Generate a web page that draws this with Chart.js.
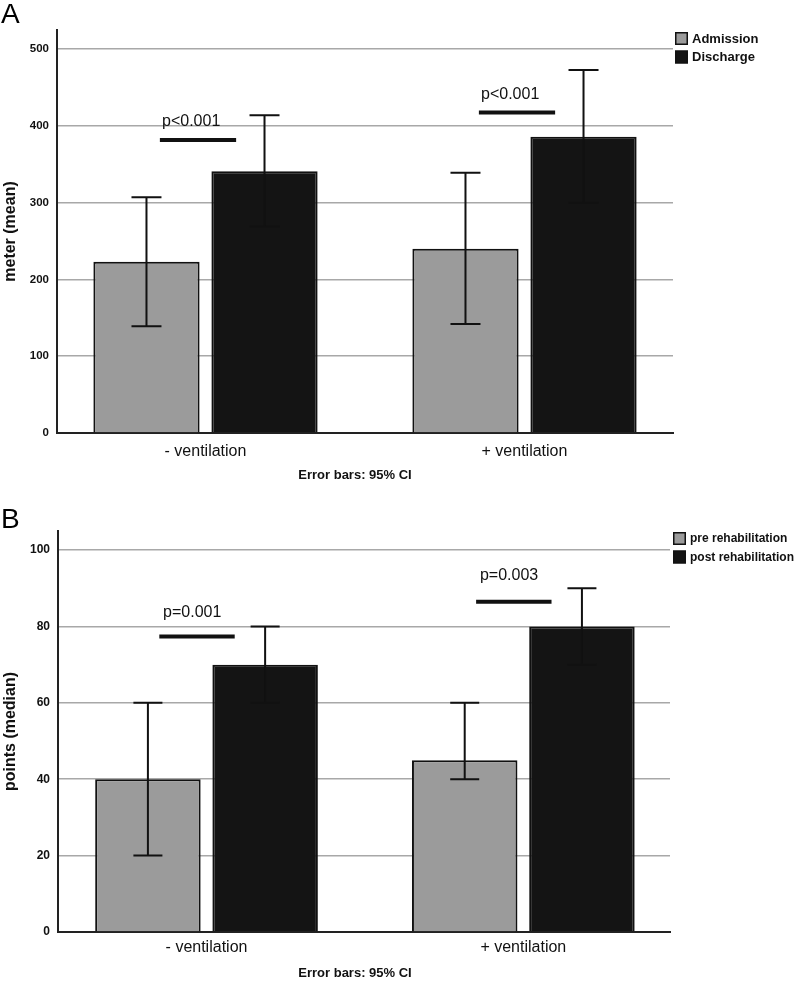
<!DOCTYPE html>
<html><head><meta charset="utf-8">
<script src="https://cdn.jsdelivr.net/npm/chart.js@4.4.0/dist/chart.umd.min.js"></script>
<style>
html,body{margin:0;padding:0;background:#fff;}
#wrap{position:relative;width:800px;height:988px;background:#fff;}
canvas{position:absolute;left:0;}
</style></head><body>
<div id="wrap">
<canvas id="cA" width="800" height="490" style="top:0"></canvas>
<canvas id="cB" width="800" height="498" style="top:490px"></canvas>
</div>
<script>
// ---------- data ----------
const categories = ['- ventilation', '+ ventilation'];

// Panel A: walking distance (meter, mean, 95% CI)
const seriesA = ['Admission', 'Discharge'];
const admissionMean = [223, 240];
const admissionCILow = [139, 142];
const admissionCIHigh = [307, 339];
const dischargeMean = [341, 386];
const dischargeCILow = [269, 300];
const dischargeCIHigh = [414, 473];
const pValuesA = ['p<0.001', 'p<0.001'];
const yTicksA = [0, 100, 200, 300, 400, 500];

// Panel B: points (median, 95% CI)
const seriesB = ['pre rehabilitation', 'post rehabilitation'];
const preMedian = [40, 45];
const preCILow = [20, 40];
const preCIHigh = [60, 60];
const postMedian = [70, 80];
const postCILow = [60, 70];
const postCIHigh = [80, 90];
const pValuesB = ['p=0.001', 'p=0.003'];
const yTicksB = [0, 20, 40, 60, 80, 100];

// ---------- styling ----------
const FONT = '"Liberation Sans", Arial, Helvetica, sans-serif';
const INK = '#111111';
const GREY = '#9b9b9b';
const DARK = '#141414';
const GRID = '#a8a8a8';

const extrasPlugin = {
  id: 'extras',
  afterDatasetsDraw(chart, args, o) {
    const ctx = chart.ctx, xs = chart.scales.x, ys = chart.scales.y;
    ctx.save();
    ctx.strokeStyle = INK;
    ctx.lineWidth = 2;
    chart.data.datasets.forEach((ds, i) => {
      const meta = chart.getDatasetMeta(i);
      meta.data.forEach((el, j) => {
        const x = el.x;
        const yl = ys.getPixelForValue(ds.ciLow[j]);
        const yh = ys.getPixelForValue(ds.ciHigh[j]);
        const c = o.cap / 2;
        ctx.beginPath();
        ctx.moveTo(x, yl); ctx.lineTo(x, yh);
        ctx.moveTo(x - c, yl); ctx.lineTo(x + c, yl);
        ctx.moveTo(x - c, yh); ctx.lineTo(x + c, yh);
        ctx.stroke();
      });
    });
    // significance annotations
    const s = o.sig;
    s.texts.forEach((t, j) => {
      const x0 = xs.getPixelForValue(j + s.dx[0]);
      const x1 = xs.getPixelForValue(j + s.dx[1]);
      const yLine = ys.getPixelForValue(s.lineY[j]);
      ctx.lineWidth = 4;
      ctx.beginPath(); ctx.moveTo(x0, yLine); ctx.lineTo(x1, yLine); ctx.stroke();
      ctx.fillStyle = INK;
      ctx.font = '16px ' + FONT;
      ctx.textAlign = 'center';
      ctx.textBaseline = 'middle';
      ctx.fillText(t, xs.getPixelForValue(j + s.textDx), ys.getPixelForValue(s.textY[j]));
    });
    ctx.restore();
  },
  afterDraw(chart, args, o) {
    const ctx = chart.ctx;
    ctx.save();
    // legend
    const L = o.legend;
    chart.data.datasets.forEach((ds, i) => {
      const y = L.y + i * L.step;
      ctx.fillStyle = ds.backgroundColor;
      ctx.fillRect(L.x, y, L.box, L.box);
      ctx.strokeStyle = INK; ctx.lineWidth = 1.5;
      ctx.strokeRect(L.x + 0.75, y + 0.75, L.box - 1.5, L.box - 1.5);
      ctx.fillStyle = INK;
      ctx.font = 'bold ' + L.size + 'px ' + FONT;
      ctx.textAlign = 'left'; ctx.textBaseline = 'middle';
      ctx.fillText(ds.label, L.x + L.box + 4, y + L.box / 2 + 0.5);
    });
    // panel letter
    ctx.fillStyle = '#000';
    ctx.font = '28px ' + FONT;
    ctx.textAlign = 'left'; ctx.textBaseline = 'alphabetic';
    ctx.fillText(o.letter.text, o.letter.x, o.letter.y);
    // footnote
    ctx.fillStyle = INK;
    ctx.font = 'bold 13px ' + FONT;
    ctx.textAlign = 'center'; ctx.textBaseline = 'middle';
    ctx.fillText('Error bars: 95% CI', o.foot.x, o.foot.y);
    ctx.restore();
  }
};

function makeConfig(p) {
  const ds = (label, vals, lo, hi, color) => ({
    label, data: vals.map((v, i) => ({ x: i, y: v })), ciLow: lo, ciHigh: hi,
    backgroundColor: color, borderColor: INK, borderWidth: 2,
    categoryPercentage: 0.74, barPercentage: 0.9
  });
  return {
    type: 'bar',
    data: { datasets: [
      ds(p.series[0], p.v1, p.lo1, p.hi1, GREY),
      ds(p.series[1], p.v2, p.lo2, p.hi2, DARK)
    ] },
    options: {
      responsive: false, animation: false,
      layout: { padding: { top: p.top, right: p.right, left: 0, bottom: 0 } },
      plugins: { legend: { display: false }, tooltip: { enabled: false }, extras: p.extras },
      scales: {
        x: {
          type: 'linear', min: p.xmin, max: p.xmax, offset: false,
          grid: { display: false },
          border: { display: true, color: '#222', width: 2 },
          afterBuildTicks: s => { s.ticks = categories.map((c, i) => ({ value: i })); },
          ticks: { callback: v => categories[v], font: { family: FONT, size: 16 }, color: INK,
                   padding: p.xpad, maxRotation: 0, autoSkip: false },
          afterFit: s => { s.height = p.xh; }
        },
        y: {
          min: 0, max: p.ymax,
          afterBuildTicks: s => { s.ticks = p.yticks.map(v => ({ value: v })); },
          grid: { color: GRID, lineWidth: 1.5, drawTicks: false },
          border: { display: true, color: '#222', width: 2 },
          ticks: { font: { family: FONT, size: p.tickSize, weight: 'bold' }, color: INK, padding: 8 },
          title: { display: true, text: p.ytitle, font: { family: FONT, size: 16, weight: 'bold' },
                   color: INK, padding: { top: 1, bottom: 0 } },
          afterFit: s => { s.width = p.yw; }
        }
      }
    },
    plugins: [extrasPlugin]
  };
}

new Chart(document.getElementById('cA'), makeConfig({
  series: seriesA,
  v1: admissionMean, lo1: admissionCILow, hi1: admissionCIHigh,
  v2: dischargeMean, lo2: dischargeCILow, hi2: dischargeCIHigh,
  top: 30, right: 127, xh: 57, yw: 57, xmin: -0.4655, xmax: 1.4655, xpad: 1,
  ymax: 525, yticks: yTicksA, tickSize: 11.5, ytitle: 'meter (mean)',
  extras: {
    cap: 30,
    sig: { texts: pValuesA, dx: [-0.143, 0.096], lineY: [381.6, 417.4], textDx: -0.045, textY: [406, 441] },
    legend: { x: 675, y: 32, box: 13, step: 18.5, size: 13 },
    letter: { text: 'A', x: 1, y: 23 },
    foot: { x: 355, y: 475 }
  }
}));

new Chart(document.getElementById('cB'), makeConfig({
  series: seriesB,
  v1: preMedian, lo1: preCILow, hi1: preCIHigh,
  v2: postMedian, lo2: postCILow, hi2: postCIHigh,
  top: 41, right: 130, xh: 56, yw: 58, xmin: -0.4688, xmax: 1.463, xpad: -2,
  ymax: 105, yticks: yTicksB, tickSize: 12, ytitle: 'points (median)',
  extras: {
    cap: 29,
    sig: { texts: pValuesB, dx: [-0.149, 0.089], lineY: [77.4, 86.5], textDx: -0.045, textY: [83.7, 93.2] },
    legend: { x: 673, y: 42, box: 13, step: 18.5, size: 12 },
    letter: { text: 'B', x: 1, y: 38 },
    foot: { x: 355, y: 483 }
  }
}));
</script>
</body></html>
